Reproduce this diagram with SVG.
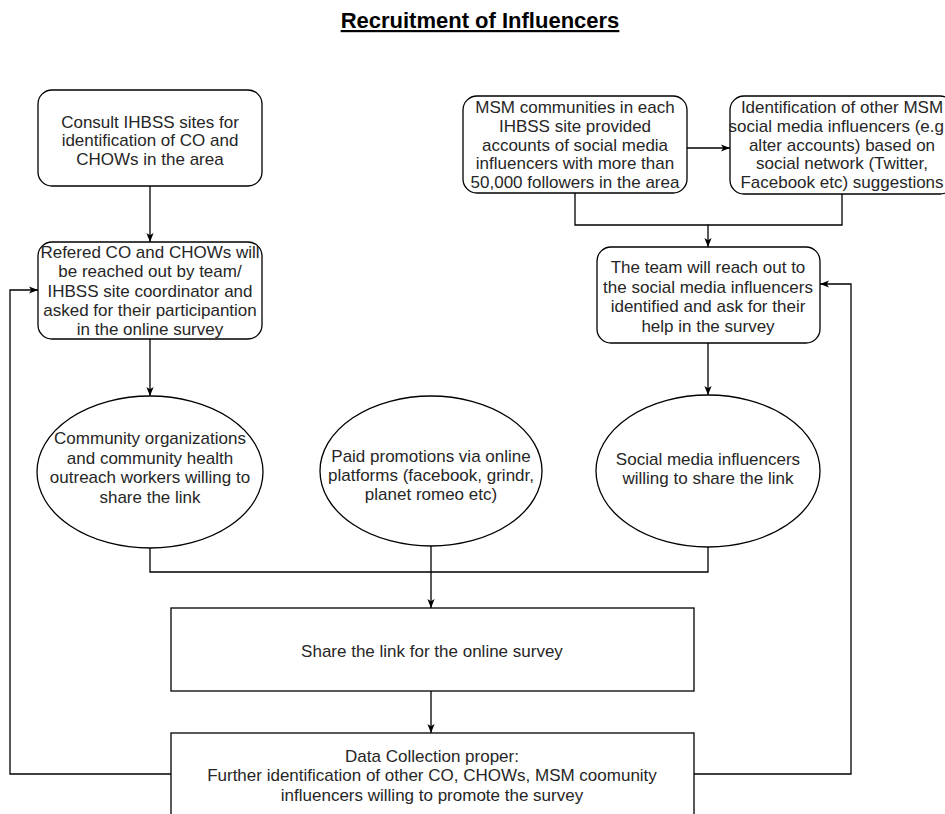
<svg xmlns="http://www.w3.org/2000/svg" width="945" height="814" viewBox="0 0 945 814">
<defs>
<marker id="arr" viewBox="0 0 10 10" refX="10" refY="5" markerWidth="9" markerHeight="9" markerUnits="userSpaceOnUse" orient="auto">
<path d="M0,1 L10,5 L0,9 L2.5,5 z" fill="#000"/>
</marker>
<style>
.n{fill:#fff;stroke:#000;stroke-width:1.3}
.t{font-family:"Liberation Sans",Arial,sans-serif;font-size:17px;fill:#262626;text-anchor:middle}
.c{fill:none;stroke:#000;stroke-width:1.3}
.a{marker-end:url(#arr)}
.title{font-family:"Liberation Sans",Arial,sans-serif;font-size:22px;font-weight:bold;fill:#000;text-anchor:middle;text-decoration:underline}
</style>
</defs>
<rect width="945" height="814" fill="#fff"/>
<text class="title" x="480" y="28">Recruitment of Influencers</text>

<g id="connectors">
<path class="c a" d="M150,186 L150,242"/>
<path class="c a" d="M150,339 L150,396"/>
<path class="c a" d="M687,148 L730,148"/>
<path class="c" d="M575,193 L575,225 L708,225"/>
<path class="c a" d="M842,194 L842,225 L708,225 L708,247"/>
<path class="c a" d="M708,343 L708,395"/>
<path class="c" d="M150,548 L150,572 L708,572 L708,547"/>
<path class="c a" d="M431,546 L431,608"/>
<path class="c a" d="M431,691 L431,733"/>
<path class="c a" d="M171,774 L10,774 L10,290 L38,290"/>
<path class="c a" d="M694,774 L851,774 L851,284 L820,284"/>
</g>

<g id="consult">
<rect class="n" x="38" y="90" width="224" height="96" rx="14"/>
<text class="t" x="150" y="127.5">Consult IHBSS sites for</text>
<text class="t" x="150" y="146">identification of CO and</text>
<text class="t" x="150" y="164.5">CHOWs in the area</text>
</g>

<g id="refered">
<rect class="n" x="38" y="242" width="224" height="97" rx="14"/>
<text class="t" x="150" y="258">Refered CO and CHOWs will</text>
<text class="t" x="150" y="277">be reached out by team/</text>
<text class="t" x="150" y="297">IHBSS site coordinator and</text>
<text class="t" x="150" y="316">asked for their participantion</text>
<text class="t" x="150" y="335">in the online survey</text>
</g>

<g id="msm">
<rect class="n" x="463" y="96" width="224" height="97" rx="14"/>
<text class="t" x="575" y="113.3">MSM communities in each</text>
<text class="t" x="575" y="131.9">IHBSS site provided</text>
<text class="t" x="575" y="150.5">accounts of social media</text>
<text class="t" x="575" y="169.1">influencers with more than</text>
<text class="t" x="575" y="187.7">50,000 followers in the area</text>
</g>

<g id="identification">
<rect class="n" x="730" y="96" width="224" height="98" rx="14"/>
<text class="t" x="842" y="113.3">Identification of other MSM</text>
<text class="t" x="944" y="131.9" style="text-anchor:end">social media influencers (e.g</text>
<text class="t" x="842" y="150.5">alter accounts) based on</text>
<text class="t" x="842" y="169.1">social network (Twitter,</text>
<text class="t" x="842" y="187.7">Facebook etc) suggestions</text>
</g>

<g id="team">
<rect class="n" x="597" y="247" width="223" height="96" rx="14"/>
<text class="t" x="708" y="273">The team will reach out to</text>
<text class="t" x="708" y="292.5">the social media influencers</text>
<text class="t" x="708" y="312">identified and ask for their</text>
<text class="t" x="708" y="331.5">help in the survey</text>
</g>

<g id="community">
<ellipse class="n" cx="150" cy="472" rx="113" ry="76"/>
<text class="t" x="150" y="444">Community organizations</text>
<text class="t" x="150" y="464">and community health</text>
<text class="t" x="150" y="483">outreach workers willing to</text>
<text class="t" x="150" y="503">share the link</text>
</g>

<g id="paid">
<ellipse class="n" cx="431" cy="471" rx="111" ry="75"/>
<text class="t" x="431" y="462">Paid promotions via online</text>
<text class="t" x="431" y="481">platforms (facebook, grindr,</text>
<text class="t" x="431" y="500">planet romeo etc)</text>
</g>

<g id="social">
<ellipse class="n" cx="708" cy="471" rx="112" ry="76"/>
<text class="t" x="708" y="464.5">Social media influencers</text>
<text class="t" x="708" y="483.5">willing to share the link</text>
</g>

<g id="share">
<rect class="n" x="171" y="608" width="523" height="83"/>
<text class="t" x="432" y="657">Share the link for the online survey</text>
</g>

<g id="datacollection">
<rect class="n" x="171" y="733" width="523" height="100"/>
<text class="t" x="432" y="761.7">Data Collection proper:</text>
<text class="t" x="432" y="781">Further identification of other CO, CHOWs, MSM coomunity</text>
<text class="t" x="432" y="801">influencers willing to promote the survey</text>
</g>
</svg>
